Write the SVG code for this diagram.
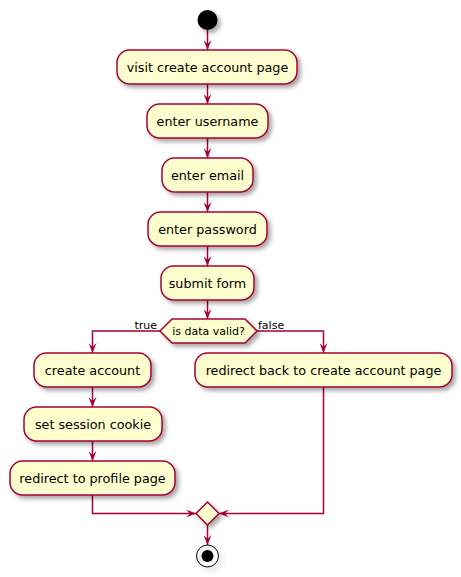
<svg xmlns="http://www.w3.org/2000/svg" width="461" height="577" viewBox="0 0 461 577">
<defs>
<filter id="sh" x="-20%" y="-20%" width="150%" height="160%">
<feDropShadow dx="3" dy="3" stdDeviation="2" flood-color="#000" flood-opacity="0.35"/>
</filter>
<marker id="ah" viewBox="0 0 10 8" markerWidth="10" markerHeight="8" refX="10" refY="4" orient="auto" markerUnits="userSpaceOnUse">
<path d="M0,0 L10,4 L0,8 L4,4 Z" fill="#A80036"/>
</marker>
<style>
.act{fill:#FEFECE;stroke:#A80036;stroke-width:1.5;filter:url(#sh)}
.t{font-family:"DejaVu Sans",sans-serif;font-size:12.75px;fill:#000;text-anchor:middle}
.s{font-family:"DejaVu Sans",sans-serif;font-size:11px;fill:#000}
.c{fill:none;stroke:#A80036;stroke-width:1.5;marker-end:url(#ah)}
</style>
</defs>
<g id="connectors">
<path class="c" d="M207.5,30 L207.5,50"/>
<path class="c" d="M207.5,84 L207.5,104"/>
<path class="c" d="M207.5,138 L207.5,158"/>
<path class="c" d="M207.5,192 L207.5,212"/>
<path class="c" d="M207.5,246 L207.5,266"/>
<path class="c" d="M207.5,300 L207.5,319"/>
<path class="c" d="M160,331 L92.5,331 L92.5,353"/>
<path class="c" d="M257,331 L323.5,331 L323.5,353"/>
<path class="c" d="M92.5,387 L92.5,407"/>
<path class="c" d="M92.5,441 L92.5,461"/>
<path class="c" d="M92.5,495 L92.5,513.5 L196,513.5"/>
<path class="c" d="M323.5,387 L323.5,513.5 L219,513.5"/>
<path class="c" d="M207.5,525 L207.5,545"/>
<text class="s" x="157" y="329" text-anchor="end">true</text>
<text class="s" x="258" y="329">false</text>
</g>
<g id="start"><circle cx="207.5" cy="20" r="10" fill="#000" filter="url(#sh)"/></g>
<g id="visit"><rect class="act" x="117" y="50" width="180" height="34" rx="12.5"/><text class="t" x="207.5" y="71.6">visit create account page</text></g>
<g id="username"><rect class="act" x="147" y="104" width="121" height="34" rx="12.5"/><text class="t" x="207.5" y="125.6">enter username</text></g>
<g id="email"><rect class="act" x="162" y="158" width="91" height="34" rx="12.5"/><text class="t" x="207.5" y="179.6">enter email</text></g>
<g id="password"><rect class="act" x="148" y="212" width="119" height="34" rx="12.5"/><text class="t" x="207.5" y="233.6">enter password</text></g>
<g id="submit"><rect class="act" x="161" y="266" width="93" height="34" rx="12.5"/><text class="t" x="207.5" y="287.6">submit form</text></g>
<g id="decision"><polygon class="act" points="160,331 172,319 245,319 257,331 245,343 172,343"/><text class="s" x="208.5" y="335" text-anchor="middle">is data valid?</text></g>
<g id="create"><rect class="act" x="34" y="353" width="117" height="34" rx="12.5"/><text class="t" x="92.5" y="374.8">create account</text></g>
<g id="redirectback"><rect class="act" x="195" y="353" width="257" height="34" rx="12.5"/><text class="t" x="323.5" y="374.8">redirect back to create account page</text></g>
<g id="cookie"><rect class="act" x="24" y="407" width="138" height="34" rx="12.5"/><text class="t" x="93" y="428.8">set session cookie</text></g>
<g id="profile"><rect class="act" x="10" y="461" width="165" height="34" rx="12.5"/><text class="t" x="92.5" y="482.8">redirect to profile page</text></g>
<g id="merge"><polygon class="act" points="207.5,502 219,513.5 207.5,525 196,513.5"/></g>
<g id="end"><circle cx="207.5" cy="556" r="11" fill="none" stroke="#000" stroke-width="1" filter="url(#sh)"/><circle cx="207.5" cy="556" r="6" fill="#000"/></g>
</svg>
